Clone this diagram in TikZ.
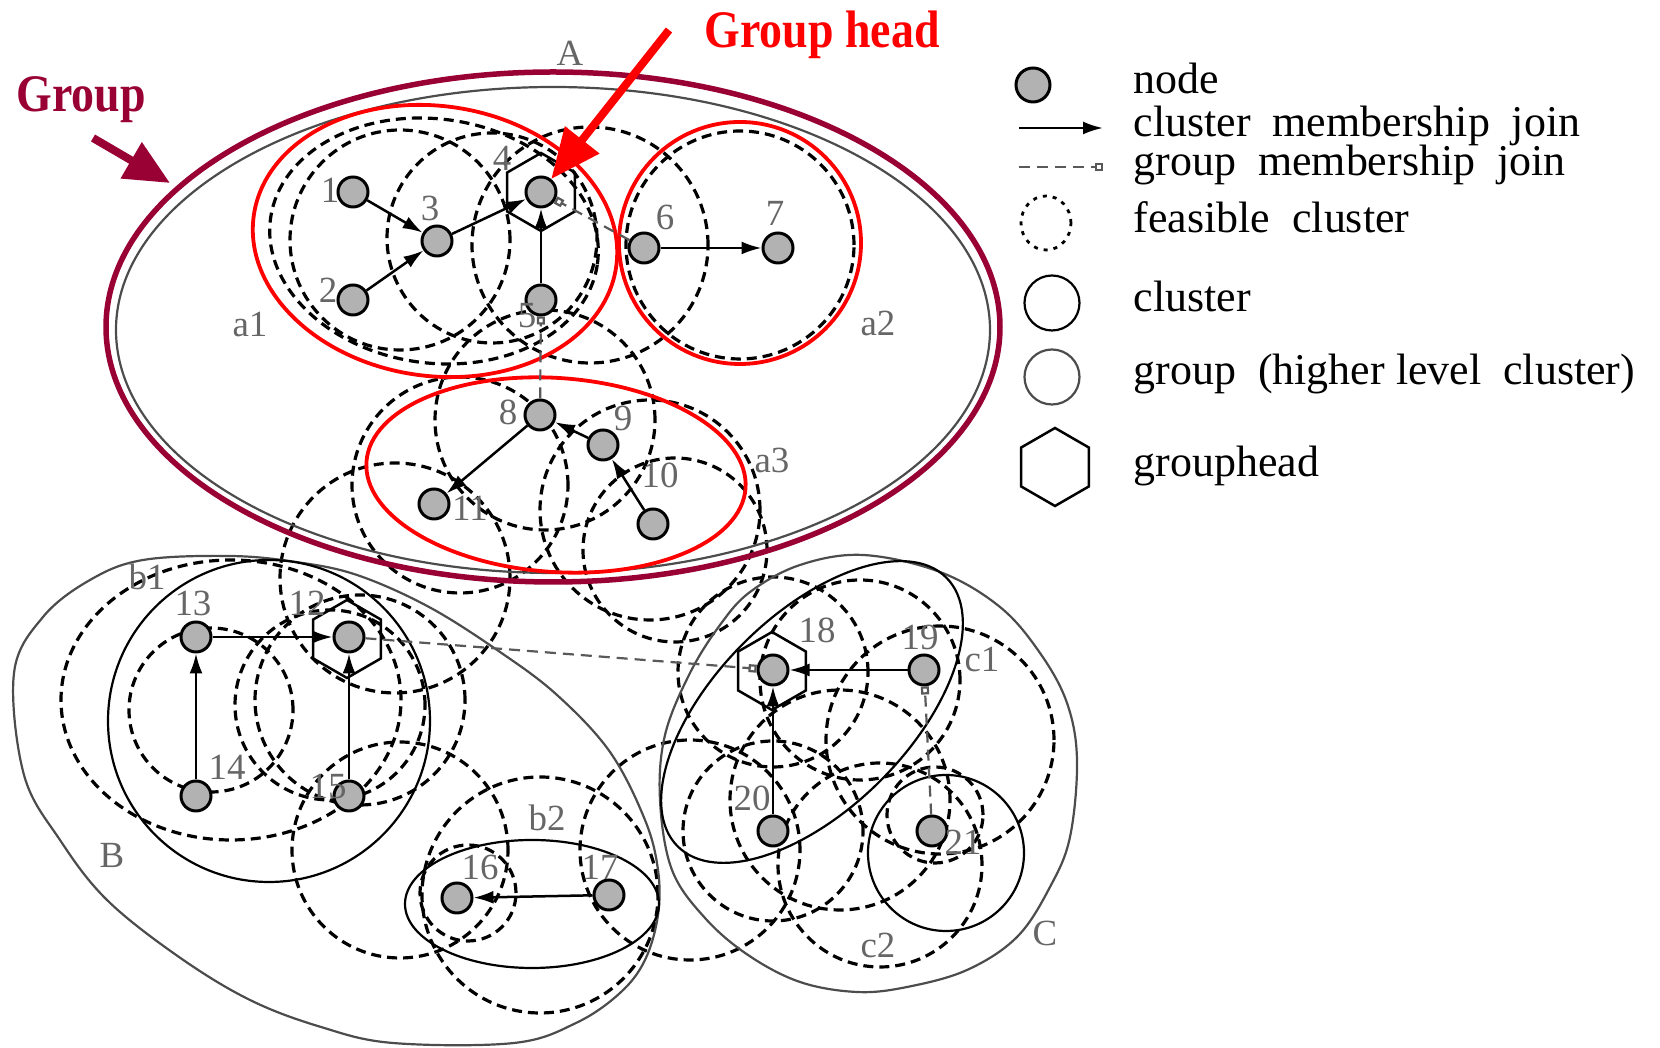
\documentclass[tikz,border=0pt]{standalone}
\usepackage{fontspec}
\setmainfont{Liberation Serif}
\usetikzlibrary{arrows.meta}
\definecolor{grpred}{RGB}{153,0,51}
\definecolor{dotgray}{RGB}{178,178,178}
\tikzset{
  hexa/.pic={\draw[line width=0.25mm] (90:3.9mm) -- (150:3.9mm) -- (210:3.9mm) -- (270:3.9mm) -- (330:3.9mm) -- (30:3.9mm) -- cycle;}
}
\begin{document}
\begin{tikzpicture}[x=0.1mm,y=-0.1mm,
  feas/.style={line width=0.32mm, dash pattern=on 1mm off 0.6mm},
  clus/.style={line width=0.22mm},
  grpl/.style={line width=0.22mm, black!70},
  redc/.style={red, line width=0.38mm},
  dot/.style={circle, draw, fill=dotgray, line width=0.3mm, minimum size=3mm, inner sep=0pt},
  lbl/.style={font=\fontsize{10.5}{12}\selectfont, text=black!60, inner sep=0.5pt},
  leg/.style={font=\fontsize{12.5}{15}\selectfont, anchor=base west, inner sep=0pt},
  cjoin/.style={line width=0.25mm, -{Latex[length=2mm,width=1.3mm]}},
  gjoin/.style={line width=0.22mm, black!65, dash pattern=on 1.1mm off 0.7mm, -{Square[open,length=0.8mm,width=0.8mm]}},
]
\useasboundingbox (0,0) rectangle (1660,1048);

% feasible clusters (dashed)
\draw[feas, rotate around={-8:(434,241)}] (434,241) ellipse [x radius=16.5mm, y radius=12.2mm];
\draw[feas] (492,238) circle [radius=10.5mm];
\draw[feas] (400,240) circle [radius=11mm];
\draw[feas] (590,245) circle [radius=11.8mm];
\draw[feas] (740,245) circle [radius=11.4mm];
\draw[feas] (545,420) circle [radius=11mm];
\draw[feas] (460,485) circle [radius=10.8mm];
\draw[feas] (650,510) circle [radius=11mm];
\draw[feas] (395,578) circle [radius=11.5mm];
\draw[feas] (675,550) circle [radius=9.2mm];
\draw[feas] (231,700) ellipse [x radius=17mm, y radius=14mm];
\draw[feas] (211,710) circle [radius=8.2mm];
\draw[feas] (330,705) circle [radius=9.5mm];
\draw[feas] (360,700) circle [radius=10.5mm];
\draw[feas] (400,850) circle [radius=10.8mm];
\draw[feas] (540,895) circle [radius=11.8mm];
\draw[feas] (468,893) circle [radius=4.8mm];
\draw[feas] (690,850) circle [radius=11mm];
\draw[feas] (773,672) circle [radius=9.5mm];
\draw[feas] (860,680) circle [radius=10mm];
\draw[feas] (940,740) circle [radius=11.4mm];
\draw[feas] (840,800) circle [radius=11mm];
\draw[feas] (773,831) circle [radius=9mm];
\draw[feas] (935,815) circle [radius=4.8mm];
\draw[feas] (880,865) circle [radius=10.2mm];

% groups (thin grey)
\draw[grpl] (553,330) ellipse [x radius=43.7mm, y radius=24.3mm];
\draw[grpl] plot[smooth cycle, tension=0.6] coordinates {(14,673) (24,775) (60,840) (107,900) (179,957) (250,1000) (321,1027) (393,1043) (514,1043) (576,1023) (620,993) (645,960) (658,915) (658,870) (645,820) (610,752) (557,695) (500,652) (429,607) (357,575) (296,562) (230,556) (143,560) (90,580) (43,617)};
\draw[grpl] plot[smooth cycle, tension=0.6] coordinates {(863,555) (940,572) (1000,607) (1040,653) (1067,703) (1077,760) (1070,837) (1050,887) (1017,937) (967,970) (907,987) (857,992) (800,982) (748,955) (705,918) (672,870) (660,800) (665,735) (690,673) (720,625) (750,592) (800,565)};

% clusters (thin black)
\draw[clus] (269,721) circle [radius=16.1mm];
\draw[clus] (532,904) ellipse [x radius=12.7mm, y radius=6.4mm];
\draw[clus, rotate around={45:(812,712)}] (812,712) ellipse [x radius=19mm, y radius=9.7mm];
\draw[clus] (946,853) circle [radius=7.8mm];

% highlighted clusters and group
\draw[redc, rotate around={-8:(435,241)}] (435,241) ellipse [x radius=18.3mm, y radius=13.5mm];
\draw[redc] (740,243) circle [radius=12.1mm];
\draw[redc, rotate around={-4:(556,475)}] (556,475) ellipse [x radius=19mm, y radius=9.7mm];
\draw[grpred, line width=0.55mm] (553,327) ellipse [x radius=44.7mm, y radius=25.5mm];

% group heads
\pic at (541,192) {hexa};
\pic at (347,639) {hexa};
\pic at (772,671) {hexa};

% nodes
\node[dot] (n1) at (353,192) {};
\node[dot] (n2) at (353,300) {};
\node[dot] (n3) at (437,241) {};
\node[dot] (n4) at (541,192) {};
\node[dot] (n5) at (541,300) {};
\node[dot] (n6) at (644,248) {};
\node[dot] (n7) at (778,248) {};
\node[dot] (n8) at (540,415) {};
\node[dot] (n9) at (603,445) {};
\node[dot] (n10) at (653,524) {};
\node[dot] (n11) at (434,504) {};
\node[dot] (n12) at (349,637) {};
\node[dot] (n13) at (196,637) {};
\node[dot] (n14) at (196,796) {};
\node[dot] (n15) at (349,796) {};
\node[dot] (n16) at (457,898) {};
\node[dot] (n17) at (609,895) {};
\node[dot] (n18) at (773,670) {};
\node[dot] (n19) at (924,670) {};
\node[dot] (n20) at (773,831) {};
\node[dot] (n21) at (932,831) {};

% cluster membership joins
\draw[cjoin] (n1) -- (n3);
\draw[cjoin] (n2) -- (n3);
\draw[cjoin] (n3) -- (n4);
\draw[cjoin] (n5) -- (n4);
\draw[cjoin] (n6) -- (n7);
\draw[cjoin] (n9) -- (n8);
\draw[cjoin] (n10) -- (n9);
\draw[cjoin] (n8) -- (n11);
\draw[cjoin] (n13) -- (n12);
\draw[cjoin] (n14) -- (n13);
\draw[cjoin] (n15) -- (n12);
\draw[cjoin] (n17) -- (n16);
\draw[cjoin] (n19) -- (n18);
\draw[cjoin] (n20) -- (n18);

% group membership joins
\draw[gjoin] (n12) -- (n18);
\draw[gjoin] (n8) -- (n5);
\draw[gjoin] (n6) -- (n4);
\draw[gjoin] (n21) -- (n19);

% node labels
\node[lbl] (t1) at (330,190) {1};
\node[lbl] (t2) at (328,290) {2};
\node[lbl] (t3) at (430,208) {3};
\node[lbl] (t4) at (502,158) {4};
\node[lbl] (t5) at (527,316) {5};
\node[lbl] (t6) at (665,217) {6};
\node[lbl] (t7) at (775,213) {7};
\node[lbl] (t8) at (508,412) {8};
\node[lbl] (t9) at (623,418) {9};
\node[lbl] (t10) at (660,475) {10};
\node[lbl] (t11) at (470,508) {11};
\node[lbl] (t12) at (307,603) {12};
\node[lbl] (t13) at (193,603) {13};
\node[lbl] (t14) at (227,767) {14};
\node[lbl] (t15) at (328,787) {15};
\node[lbl] (t16) at (480,867) {16};
\node[lbl] (t17) at (600,867) {17};
\node[lbl] (t18) at (817,630) {18};
\node[lbl] (t19) at (920,637) {19};
\node[lbl] (t20) at (752,798) {20};
\node[lbl] (t21) at (963,842) {21};
\node[lbl] (ta) at (570,53) {A};
\node[lbl] (ta1) at (250,325) {a1};
\node[lbl] (ta2) at (878,323) {a2};
\node[lbl] (ta3) at (772,460) {a3};
\node[lbl] (tb) at (112,855) {B};
\node[lbl] (tb1) at (147,577) {b1};
\node[lbl] (tb2) at (547,818) {b2};
\node[lbl] (tc) at (1045,933) {C};
\node[lbl] (tc1) at (982,660) {c1};
\node[lbl] (tc2) at (878,945) {c2};

% callouts
\node[font=\fontsize{15}{18}\selectfont\bfseries, text=red, anchor=base west, inner sep=0pt] (ghead) at (704,48) {\scalebox{0.87}[1]{Group head}};
\node[font=\fontsize{15}{18}\selectfont\bfseries, text=grpred, anchor=base west, inner sep=0pt] (gname) at (16,112) {\scalebox{0.87}[1]{Group}};
\coordinate (ra) at (669,30);
\draw[red, line width=0.8mm, -{Triangle[length=5mm,width=4.2mm]}] (ra) -- (n4);
\coordinate (ma) at (93,138);
\coordinate (mb) at (170,183);
\draw[grpred, line width=0.8mm, -{Triangle[length=4.5mm,width=4mm]}] (ma) -- (mb);

% legend
\node[dot, minimum size=3.4mm] (legdot) at (1033,85) {};
\node[leg] (legt1) at (1133,94) {node};
\coordinate (la) at (1019,128);
\coordinate (lb) at (1103,128);
\draw[cjoin] (la) -- (lb);
\node[leg] (legt2) at (1133,137) {cluster\ \ membership\ \ join};
\coordinate (lc) at (1019,167);
\coordinate (ld) at (1103,167);
\draw[gjoin] (lc) -- (ld);
\node[leg] (legt3) at (1133,176) {group\ \ membership\ \ join};
\draw[line width=0.28mm, dash pattern=on 0.4mm off 0.6mm] (1046,223) ellipse [x radius=2.5mm, y radius=2.7mm];
\node[leg] (legt4) at (1133,233) {feasible\ \ cluster};
\draw[clus] (1052,303) circle [radius=2.75mm];
\node[leg] (legt5) at (1133,312) {cluster};
\draw[grpl] (1052,377) circle [radius=2.75mm];
\node[leg] (legt6) at (1133,385) {group\ \ (higher level\ \ cluster)};
\pic at (1055,467) {hexa};
\node[leg] (legt7) at (1133,477) {grouphead};
\end{tikzpicture}
\end{document}
